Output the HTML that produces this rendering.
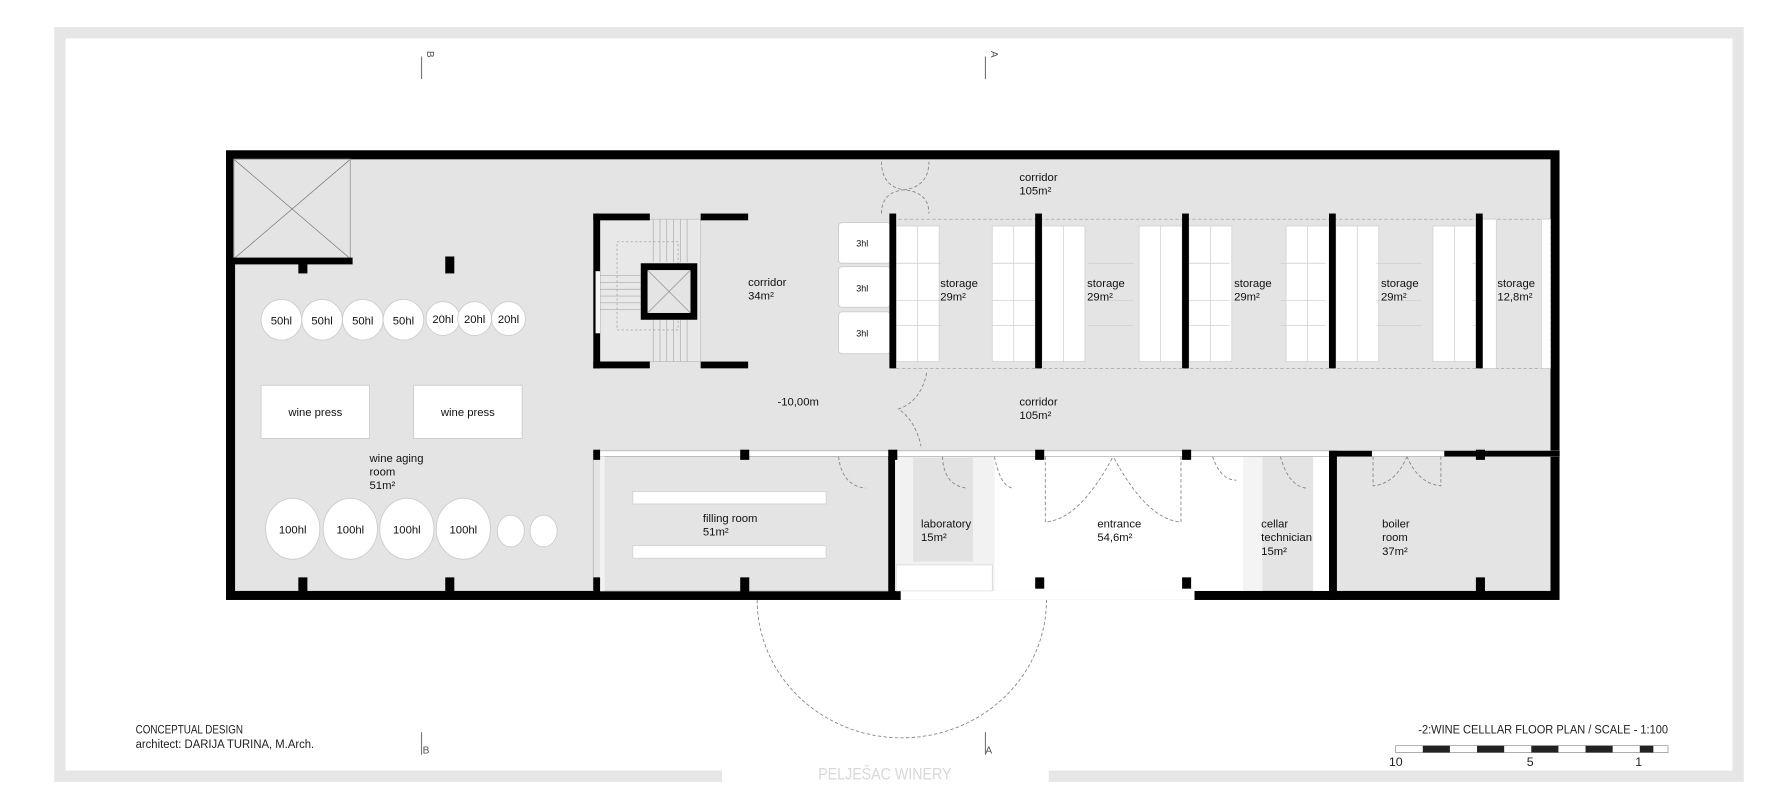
<!DOCTYPE html>
<html><head><style>html,body{margin:0;padding:0;background:#fff}svg{display:block}</style></head>
<body>
<svg width="1772" height="809" viewBox="0 0 1568 716" preserveAspectRatio="none" xmlns="http://www.w3.org/2000/svg" font-family="Liberation Sans, sans-serif">
<rect x="0" y="0" width="1568" height="716" fill="#fff"/>
<rect x="48" y="24" width="1495" height="668" fill="#e6e6e6"/>
<rect x="58" y="34" width="1475" height="648" fill="#fff"/>
<rect x="639" y="682" width="289" height="12" fill="#fff"/>
<text x="724" y="690" font-size="15" fill="#d8d8d8" textLength="118" lengthAdjust="spacingAndGlyphs">PELJEŠAC WINERY</text>
<g stroke="#777" stroke-width="1"><line x1="373" y1="50" x2="373" y2="70"/><line x1="872" y1="50" x2="872" y2="70"/><line x1="373" y1="648" x2="373" y2="668"/><line x1="872" y1="648" x2="872" y2="668"/></g>
<g font-size="9" fill="#555"><text x="375" y="48" transform="rotate(90 378 48)">B</text><text x="874" y="48" transform="rotate(90 877 48)">A</text><text x="374" y="667">B</text><text x="872" y="667">A</text></g>
<rect x="200" y="133" width="1180" height="398" fill="#000"/>
<rect x="208" y="141" width="1164" height="382" fill="#e4e4e4"/>
<rect x="797" y="523" width="260" height="8" fill="#fff"/>
<rect x="880" y="404" width="220" height="119" fill="#fff"/>
<rect x="1100" y="404" width="17" height="119" fill="#f4f4f4"/>
<rect x="1162" y="404" width="14" height="119" fill="#fff"/>
<rect x="790" y="404" width="90" height="119" fill="#f2f2f2"/>
<rect x="808" y="405" width="53" height="92" fill="#e2e2e2"/>
<rect x="793" y="500" width="85" height="23" fill="#fff" stroke="#ccc" stroke-width="0.5"/>
<rect x="207" y="141" width="103" height="88" fill="#e4e4e4" stroke="#aaa" stroke-width="1"/>
<line x1="207" y1="141" x2="310" y2="229" stroke="#777" stroke-width="0.6"/>
<line x1="310" y1="141" x2="207" y2="229" stroke="#777" stroke-width="0.6"/>
<rect x="200" y="228" width="112" height="6" fill="#000"/>
<rect x="264" y="233" width="8" height="9" fill="#000"/>
<rect x="394" y="227" width="8" height="15" fill="#000"/>
<g fill="#fff" stroke="#ccc" stroke-width="0.8">
<circle cx="249" cy="283" r="18"/><circle cx="285" cy="283" r="18"/><circle cx="321" cy="283" r="18"/><circle cx="357" cy="283" r="18"/>
<circle cx="392" cy="282" r="15"/><circle cx="420" cy="282" r="15"/><circle cx="450" cy="282" r="15"/>
<ellipse cx="259" cy="468" rx="24" ry="27"/><ellipse cx="310" cy="468" rx="24" ry="27"/><ellipse cx="360" cy="468" rx="24" ry="27"/><ellipse cx="410" cy="468" rx="24" ry="27"/>
<ellipse cx="452" cy="470" rx="12" ry="14"/><ellipse cx="481" cy="470" rx="12" ry="14"/>
<rect x="231" y="341" width="96" height="47"/><rect x="366" y="341" width="96" height="47"/>
</g>
<g font-size="10" fill="#111" text-anchor="middle">
<text x="249" y="287">50hl</text><text x="285" y="287">50hl</text><text x="321" y="287">50hl</text><text x="357" y="287">50hl</text>
<text x="392" y="286">20hl</text><text x="420" y="286">20hl</text><text x="450" y="286">20hl</text>
<text x="259" y="472">100hl</text><text x="310" y="472">100hl</text><text x="360" y="472">100hl</text><text x="410" y="472">100hl</text>
<text x="279" y="368">wine press</text><text x="414" y="368">wine press</text>
</g>
<g font-size="10" fill="#111">
<text x="327" y="409">wine aging</text><text x="327" y="421">room</text><text x="327" y="433">51m²</text>
<text x="662" y="253">corridor</text><text x="662" y="265">34m²</text>
<text x="902" y="160">corridor</text><text x="902" y="172">105m²</text>
<text x="902" y="359">corridor</text><text x="902" y="371">105m²</text>
<text x="688" y="359">-10,00m</text>
<text x="622" y="462">filling room</text><text x="622" y="474">51m²</text>
<text x="815" y="467">laboratory</text><text x="815" y="479">15m²</text>
<text x="971" y="467">entrance</text><text x="971" y="479">54,6m²</text>
<text x="1116" y="467">cellar</text><text x="1116" y="479">technician</text><text x="1116" y="491">15m²</text>
<text x="1223" y="467">boiler</text><text x="1223" y="479">room</text><text x="1223" y="491">37m²</text>
</g>
<rect x="531" y="194" width="89" height="126" fill="#e8e8e8" stroke="#bbb" stroke-width="0.6"/>
<g stroke="#aaa" stroke-width="0.6">
<line x1="578" y1="194" x2="578" y2="232"/><line x1="584" y1="194" x2="584" y2="232"/><line x1="590" y1="194" x2="590" y2="232"/><line x1="596" y1="194" x2="596" y2="232"/><line x1="602" y1="194" x2="602" y2="232"/><line x1="608" y1="194" x2="608" y2="232"/>
<line x1="578" y1="283" x2="578" y2="320"/><line x1="584" y1="283" x2="584" y2="320"/><line x1="590" y1="283" x2="590" y2="320"/><line x1="596" y1="283" x2="596" y2="320"/><line x1="602" y1="283" x2="602" y2="320"/><line x1="608" y1="283" x2="608" y2="320"/>
<line x1="531" y1="244" x2="567" y2="244"/><line x1="531" y1="250" x2="567" y2="250"/><line x1="531" y1="256" x2="567" y2="256"/><line x1="531" y1="262" x2="567" y2="262"/><line x1="531" y1="268" x2="567" y2="268"/><line x1="531" y1="274" x2="567" y2="274"/>
</g>
<rect x="546" y="214" width="54" height="78" fill="none" stroke="#999" stroke-width="0.6" stroke-dasharray="2,2"/>
<rect x="567" y="233" width="50" height="50" fill="#000"/>
<rect x="573" y="239" width="38" height="38" fill="#e4e4e4"/>
<line x1="573" y1="239" x2="611" y2="277" stroke="#777" stroke-width="0.5"/><line x1="611" y1="239" x2="573" y2="277" stroke="#777" stroke-width="0.5"/>
<g fill="#000">
<rect x="525" y="189" width="6" height="137"/><rect x="525" y="189" width="50" height="6"/><rect x="620" y="189" width="42" height="6"/>
<rect x="525" y="320" width="50" height="6"/><rect x="620" y="320" width="42" height="6"/>
</g>
<rect x="527" y="240" width="4" height="55" fill="#f4f4f4"/>
<g fill="#fff" stroke="#ccc" stroke-width="0.8"><rect x="742" y="197" width="46" height="36" rx="3"/><rect x="742" y="236" width="46" height="36" rx="3"/><rect x="742" y="276" width="46" height="37" rx="3"/></g>
<g font-size="8" fill="#111" text-anchor="middle"><text x="763" y="218">3hl</text><text x="763" y="258">3hl</text><text x="763" y="298">3hl</text></g>
<rect x="790" y="194" width="582" height="132" fill="none" stroke="#999" stroke-width="0.6" stroke-dasharray="3,2"/>
<g fill="#fff" stroke="#ccc" stroke-width="0.6">
<rect x="793" y="200" width="38" height="120"/><rect x="878" y="200" width="38" height="120"/><rect x="922" y="200" width="38" height="120"/>
<rect x="1008" y="200" width="38" height="120"/><rect x="1052" y="200" width="38" height="120"/><rect x="1138" y="200" width="38" height="120"/><rect x="1182" y="200" width="38" height="120"/>
<rect x="1268" y="200" width="38" height="120"/><rect x="1312" y="194" width="12" height="132"/><rect x="1364" y="194" width="8" height="132"/>
</g>
<g stroke="#ccc" stroke-width="0.6">
<line x1="812" y1="200" x2="812" y2="320"/><line x1="897" y1="200" x2="897" y2="320"/><line x1="941" y1="200" x2="941" y2="320"/><line x1="1027" y1="200" x2="1027" y2="320"/><line x1="1071" y1="200" x2="1071" y2="320"/><line x1="1157" y1="200" x2="1157" y2="320"/><line x1="1201" y1="200" x2="1201" y2="320"/><line x1="1287" y1="200" x2="1287" y2="320"/>
<line x1="793" y1="233" x2="1306" y2="233" stroke-dasharray="40,45"/><line x1="793" y1="266" x2="1306" y2="266" stroke-dasharray="40,45"/><line x1="793" y1="288" x2="1306" y2="288" stroke-dasharray="40,45"/>
</g>
<g fill="#000"><rect x="787" y="189" width="6" height="137"/><rect x="916" y="189" width="6" height="137"/><rect x="1046" y="189" width="6" height="137"/><rect x="1176" y="189" width="6" height="137"/><rect x="1306" y="189" width="6" height="137"/></g>
<g font-size="10" fill="#111">
<text x="832" y="254">storage</text><text x="832" y="266">29m²</text>
<text x="962" y="254">storage</text><text x="962" y="266">29m²</text>
<text x="1092" y="254">storage</text><text x="1092" y="266">29m²</text>
<text x="1222" y="254">storage</text><text x="1222" y="266">29m²</text>
<text x="1325" y="254">storage</text><text x="1325" y="266">12,8m²</text>
</g>
<g fill="none" stroke="#888" stroke-width="0.8" stroke-dasharray="3,2">
<path d="M780 143 Q780 165 800 168 Q822 165 822 143"/><path d="M780 189 Q780 170 800 168 Q822 170 822 189"/>
<path d="M820 330 Q815 355 795 362 Q810 372 815 395"/>
<path d="M670 531 A128 122 0 0 0 926 531"/>
<path d="M925 404 L925 462 Q955 460 985 404"/><path d="M1045 404 L1045 462 Q1015 460 985 404"/>
<path d="M742 404 Q745 430 766 432"/><path d="M834 404 Q835 430 856 432"/><path d="M880 404 Q885 430 896 432"/><path d="M1073 404 Q1080 425 1094 425"/><path d="M1133 404 Q1140 430 1156 432"/>
<path d="M1215 404 L1215 430 Q1235 428 1245 404"/><path d="M1275 404 L1275 430 Q1255 428 1245 404"/>
</g>
<rect x="525" y="399" width="855" height="5" fill="#fff" stroke="#aaa" stroke-width="0.6"/>
<rect x="525" y="404" width="265" height="119" fill="none" stroke="#bbb" stroke-width="0.8"/>
<rect x="531" y="404" width="4" height="119" fill="#f2f2f2"/>
<g fill="#fff" stroke="#ccc" stroke-width="0.6"><rect x="560" y="435" width="171" height="11"/><rect x="560" y="483" width="171" height="11"/></g>
<rect x="1176" y="399" width="7" height="132" fill="#000"/>
<rect x="1176" y="399" width="38" height="5" fill="#000"/><rect x="1278" y="399" width="102" height="5" fill="#000"/>
<g fill="#000">
<rect x="525" y="398" width="6" height="9"/><rect x="655" y="398" width="8" height="9"/><rect x="786" y="398" width="8" height="9"/><rect x="916" y="398" width="8" height="9"/><rect x="1046" y="398" width="8" height="9"/><rect x="1306" y="398" width="8" height="9"/>
<rect x="264" y="511" width="8" height="14"/><rect x="394" y="511" width="8" height="14"/><rect x="525" y="511" width="6" height="14"/><rect x="655" y="511" width="8" height="14"/><rect x="786" y="404" width="6" height="121"/><rect x="916" y="511" width="8" height="10"/><rect x="1046" y="511" width="8" height="10"/><rect x="1306" y="511" width="8" height="14"/>
</g>
<g font-size="11" fill="#222">
<text x="120" y="649" textLength="95" lengthAdjust="spacingAndGlyphs">CONCEPTUAL DESIGN</text>
<text x="120" y="662" textLength="158" lengthAdjust="spacingAndGlyphs">architect:  DARIJA TURINA, M.Arch.</text>
<text x="1255" y="649" textLength="221" lengthAdjust="spacingAndGlyphs">-2:WINE CELLLAR  FLOOR PLAN  /    SCALE - 1:100</text>
<text x="1229" y="678">10</text><text x="1351" y="678">5</text><text x="1447" y="678">1</text>
</g>
<rect x="1235" y="660" width="241" height="6" fill="#fff" stroke="#888" stroke-width="0.6"/>
<g fill="#222"><rect x="1259" y="660" width="24" height="6"/><rect x="1307" y="660" width="24" height="6"/><rect x="1355" y="660" width="24" height="6"/><rect x="1403" y="660" width="24" height="6"/><rect x="1451" y="660" width="12" height="6"/></g>
</svg>
</body></html>
